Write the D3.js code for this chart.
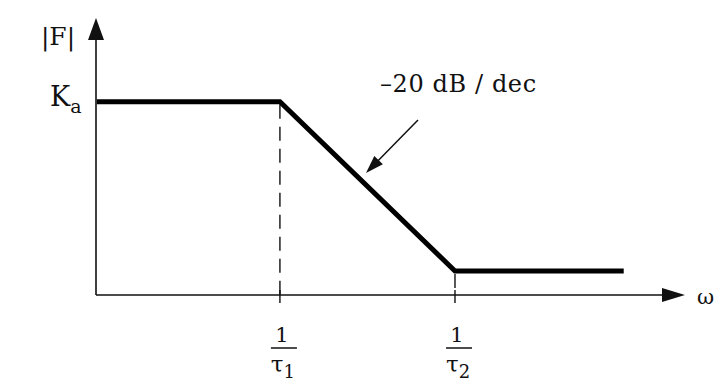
<!DOCTYPE html>
<html>
<head>
<meta charset="utf-8">
<script src="https://cdn.jsdelivr.net/npm/d3@7"></script>
<style>
  body { margin: 0; background: #fff; }
  text { font-family: "DejaVu Serif", "Liberation Serif", serif; fill: #111; }
</style>
</head>
<body>
<div id="chart"></div>
<script>
// Asymptotic magnitude plot (Bode), log ω vs dB
const omega = [0.09, 1, 10, 92]          // 1/τ1 = 1, 1/τ2 = 10
const magDb = [0, 0, -20, -20]           // Ka, Ka, Ka-20dB, Ka-20dB
const breaks = [
    { w: 1, db: 0, sub: "1" },
    { w: 10, db: -20, sub: "2" }
]
const slopeLabel = "\u201320 dB / dec"

const width = 715, height = 383

const svg = d3.select("#chart").append("svg")
    .attr("width", width)
    .attr("height", height)

// Escalas
const x = d3.scaleLog().domain([0.089, 206]).range([96, 685])
const y = d3.scaleLinear().domain([-22.84, 9.9]).range([295, 18])

const axisY = y(-22.84), axisX = x(0.089)

// Ejes con flechas
svg.append("line")
    .attr("x1", axisX).attr("x2", x(206) - 18)
    .attr("y1", axisY).attr("y2", axisY)
    .attr("stroke", "#111").attr("stroke-width", 1.6)
svg.append("path")
    .attr("d", `M${x(206)},${axisY} L${x(206) - 23},${axisY - 7} L${x(206) - 23},${axisY + 7} Z`)
    .attr("fill", "#111")

svg.append("line")
    .attr("x1", axisX).attr("x2", axisX)
    .attr("y1", axisY).attr("y2", y(9.9) + 18)
    .attr("stroke", "#111").attr("stroke-width", 1.6)
svg.append("path")
    .attr("d", `M${axisX},${y(9.9)} L${axisX - 8},${y(9.9) + 22} L${axisX + 8},${y(9.9) + 22} Z`)
    .attr("fill", "#111")

// Líneas punteadas y ticks en los quiebres
breaks.forEach(b => {
    svg.append("line")
        .attr("x1", x(b.w)).attr("x2", x(b.w))
        .attr("y1", y(b.db) + 3).attr("y2", axisY)
        .attr("stroke", "#111").attr("stroke-width", 1.4)
        .attr("stroke-dasharray", "14,8")
    svg.append("line")
        .attr("x1", x(b.w)).attr("x2", x(b.w))
        .attr("y1", axisY - 5).attr("y2", axisY + 8)
        .attr("stroke", "#111").attr("stroke-width", 1.4)

    const g = svg.append("g").attr("transform", `translate(${x(b.w) + 2},0)`)
    g.append("text").attr("x", 0).attr("y", 342)
        .attr("text-anchor", "middle").attr("font-size", 21).text("1")
    g.append("line").attr("x1", -11).attr("x2", 15)
        .attr("y1", 348).attr("y2", 348)
        .attr("stroke", "#111").attr("stroke-width", 1.5)
    const t = g.append("text").attr("x", 1).attr("y", 372)
        .attr("text-anchor", "middle").attr("font-size", 23)
    t.append("tspan").text("\u03c4")
    t.append("tspan").attr("font-size", 18).attr("dy", 6).text(b.sub)
})

// Curva asintótica
const line = d3.line()
    .x((d, i) => x(omega[i]))
    .y(d => y(d))
svg.append("path")
    .datum(magDb)
    .attr("d", line)
    .attr("fill", "none")
    .attr("stroke", "#000")
    .attr("stroke-width", 5)
    .attr("stroke-linejoin", "miter")

// Etiquetas de ejes
svg.append("text").attr("x", 58).attr("y", 45)
    .attr("text-anchor", "middle").attr("font-size", 25).text("|F|")
const ka = svg.append("text").attr("x", 50).attr("y", 106).attr("font-size", 27)
ka.append("tspan").text("K")
ka.append("tspan").attr("font-size", 19).attr("dy", 7).text("a")

svg.append("text").attr("x", 697).attr("y", 304)
    .attr("font-size", 21).text("\u03c9")

// Anotación de pendiente
svg.append("text").attr("x", 380).attr("y", 92)
    .attr("font-size", 24).attr("letter-spacing", 0.6).text(slopeLabel)
const ax0 = 418, ay0 = 120, ax1 = 366, ay1 = 173
const ang = Math.atan2(ay1 - ay0, ax1 - ax0)
const hl = 18, hw = 6
svg.append("line")
    .attr("x1", ax0).attr("y1", ay0)
    .attr("x2", ax1 - Math.cos(ang) * hl * 0.8).attr("y2", ay1 - Math.sin(ang) * hl * 0.8)
    .attr("stroke", "#111").attr("stroke-width", 1.5)
const bx = ax1 - Math.cos(ang) * hl, by = ay1 - Math.sin(ang) * hl
svg.append("path")
    .attr("d", `M${ax1},${ay1} L${bx - Math.sin(ang) * hw},${by + Math.cos(ang) * hw} L${bx + Math.sin(ang) * hw},${by - Math.cos(ang) * hw} Z`)
    .attr("fill", "#111")
</script>
</body>
</html>
